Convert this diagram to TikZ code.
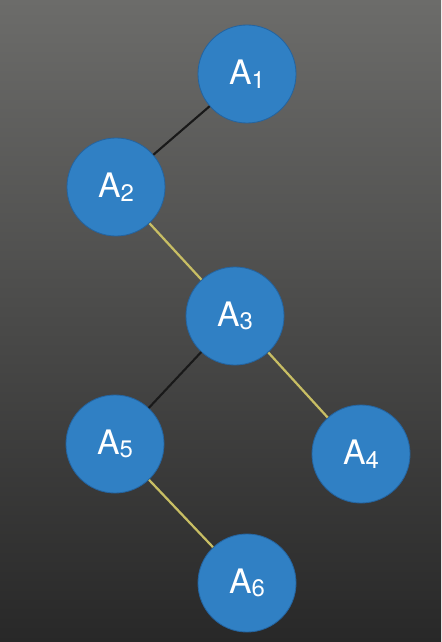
\documentclass[tikz,border=0pt]{standalone}
\usepackage{fontspec}
\usepackage{xcolor}
\setmainfont{TeX Gyre Heros}
\definecolor{nodeblue}{RGB}{48,128,196}
\definecolor{nodeedge}{RGB}{36,100,160}
\definecolor{edgeyellow}{RGB}{200,190,100}
\definecolor{edgeblack}{RGB}{25,25,25}
\newcommand{\alabel}[1]{A\raisebox{-0.2ex}{\fontsize{17}{17}\selectfont #1}}

\begin{document}
\begin{tikzpicture}[x=0.025cm, y=-0.025cm,
    treenode/.style={circle, fill=nodeblue, draw=nodeedge, line width=0.6pt,
                     minimum size=2.45cm, inner sep=0pt, text=white,
                     font=\fontsize{24}{24}\selectfont},
    blackedge/.style={draw=edgeblack, line width=1.5pt},
    yellowedge/.style={draw=edgeyellow, line width=1.6pt}]
      % Background.
      \shade [top color={rgb,255:red,108;green,108;blue,106},
              bottom color={rgb,255:red,40;green,40;blue,40}]
             (0, 0) rectangle (441, 642);
      \useasboundingbox (0, 0) rectangle (441, 642);

      % Draw nodes.
      \node [treenode] (a1) at (247, 74) {\alabel{1}};
      \node [treenode] (a2) at (116, 187) {\alabel{2}};
      \node [treenode] (a3) at (235, 316) {\alabel{3}};
      \node [treenode] (a5) at (115, 444) {\alabel{5}};
      \node [treenode] (a4) at (361, 454) {\alabel{4}};
      \node [treenode] (a6) at (247, 583) {\alabel{6}};

      % Draw edges.
      \draw [blackedge] (a1) -- (a2);
      \draw [yellowedge] (a2) -- (a3);
      \draw [blackedge] (a3) -- (a5);
      \draw [yellowedge] (a3) -- (a4);
      \draw [yellowedge] (a5) -- (a6);
\end{tikzpicture}
\end{document}
